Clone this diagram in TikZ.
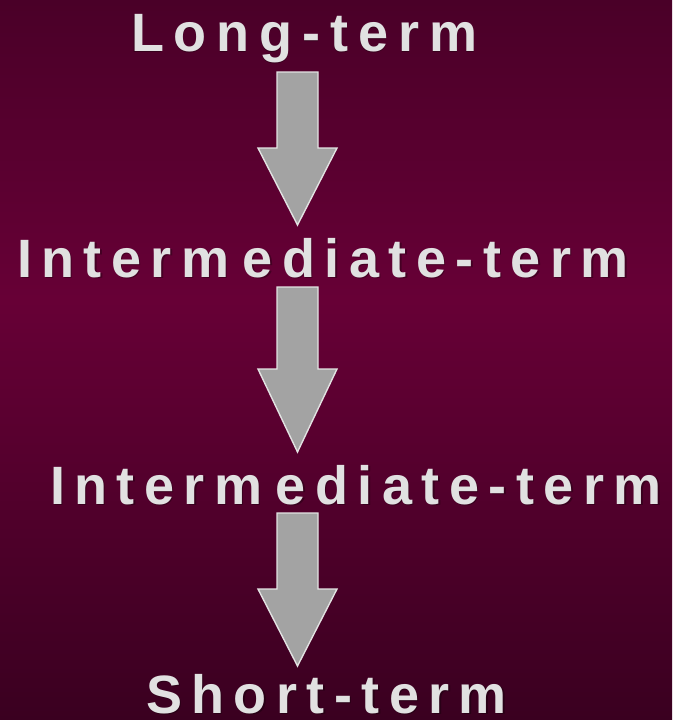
\documentclass[tikz,border=0pt]{standalone}
\usepackage{fontspec}
\setmainfont{Liberation Sans}
\usetikzlibrary{calc}

% background colours, top to bottom
\definecolor{bgtop}{HTML}{4A0028}
\definecolor{bgmid}{HTML}{670036}
\definecolor{bgbot}{HTML}{3A0020}
\definecolor{labelgray}{HTML}{E1E1E1}
\definecolor{arrowfill}{HTML}{A3A3A3}
\definecolor{arrowedge}{HTML}{E2E2E2}

% vertical backdrop (the path spans 25bp..75bp of it), brightest a little above the middle
\pgfdeclareverticalshading{backdrop}{100bp}{%
  color(0bp)=(bgbot); color(25bp)=(bgbot); color(54.2bp)=(bgmid);
  color(75bp)=(bgtop); color(100bp)=(bgtop)}

\newcommand{\termtext}[2]{{\addfontfeature{LetterSpace=#1}#2}}
\newcommand{\midterm}{\termtext{17.6}{Interm}\hspace*{13pt}\termtext{17.6}{ediate-term}}

\tikzset{
  termlabel/.style={anchor=base west, inner sep=0pt, outer sep=0pt,
    font=\bfseries\fontsize{54}{54}\selectfont, text=labelgray},
  termshadow/.style={termlabel, text=black, opacity=0.3},
  blockarrow/.style={fill=arrowfill, draw=arrowedge, line width=1.4pt,
    line join=miter},
}

% block arrow: #1 = name prefix, #2 = top y, #3 = head y, #4 = tip y
\newcommand{\downarrowblock}[4]{%
  \coordinate (#1-top) at (297.5,#2);
  \coordinate (#1-tip) at (297.5,#4);
  \draw[blockarrow]
    ($(#1-top)+(-20.5,0)$) -- ($(#1-top)+(20.5,0)$) --
    (318,#3) -- (337,#3) -- (#1-tip) -- (258,#3) -- (277,#3) -- cycle;
}

\begin{document}
\begin{tikzpicture}[x=1pt,y=-1pt]
  \useasboundingbox (0,0) rectangle (672,720);
  \begin{scope}[y=1pt]
    \fill[shading=backdrop] (0,0) rectangle (672,-720);
  \end{scope}

  % shadows under the labels
  \node[termshadow] at (130.5,52.5) {\termtext{18.5}{Long-term}};
  \node[termshadow] at (18.5,278.5) {\midterm};
  \node[termshadow] at (51.5,505.5) {\midterm};
  \node[termshadow] at (147.5,714.5) {\termtext{17.5}{Short-term}};

  % labels
  \node[termlabel] (long)  at (131,51)  {\termtext{18.5}{Long-term}};
  \node[termlabel] (mid1)  at (17,277)  {\midterm};
  \node[termlabel] (mid2)  at (50,504)  {\midterm};
  \node[termlabel] (short) at (146,713) {\termtext{17.5}{Short-term}};

  % arrows between the labels
  \downarrowblock{a1}{72}{148}{225}
  \downarrowblock{a2}{287}{369}{452}
  \downarrowblock{a3}{513}{589}{666}
\end{tikzpicture}
\end{document}
